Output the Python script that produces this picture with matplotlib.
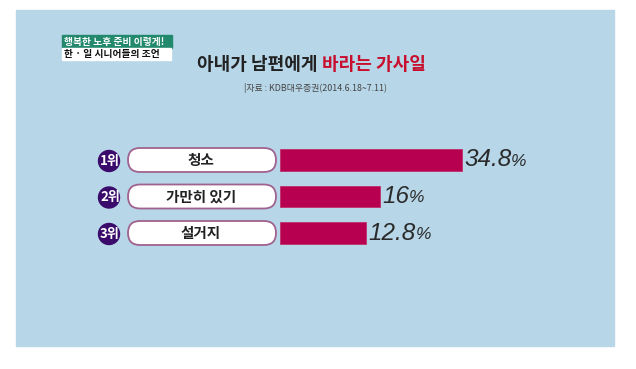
import matplotlib.pyplot as plt
from matplotlib.patches import Rectangle, FancyBboxPatch, Circle

plt.rcParams['font.family'] = ['Noto Sans CJK KR', 'DejaVu Sans']

# data
ranks = ['1위', '2위', '3위']
chores = ['청소', '가만히 있기', '설거지']
values = [34.8, 16, 12.8]
value_labels = ['34.8', '16', '12.8']

title_black = '아내가 남편에게 '
title_red = '바라는 가사일'
source = '|자료 : KDB대우증권(2014.6.18~7.11)'
tag_top = '행복한 노후 준비 이렇게!'
tag_bottom = '한 · 일 시니어들의 조언'

W, H = 636, 369
fig = plt.figure(figsize=(W / 100, H / 100), dpi=100)
fig.patch.set_facecolor('white')

# overlay axes in pixel units (top-left origin) for the decorations
bg = fig.add_axes([0, 0, 1, 1])
bg.set_xlim(0, W)
bg.set_ylim(H, 0)
bg.axis('off')

bg.add_patch(Rectangle((16, 10), 598, 336, color='#b7d6e8', zorder=0))

# tag in the top-left corner
bg.add_patch(Rectangle((62, 35), 110, 12.5, color='#23896d', zorder=1))
bg.add_patch(Rectangle((62, 47.5), 109, 12.5, color='white', zorder=1))
bg.text(64, 41.5, tag_top, color='white', fontsize=7, fontweight='bold',
        va='center', ha='left')
bg.text(64, 54, tag_bottom, color='#111111', fontsize=7, fontweight='bold',
        va='center', ha='left')

# title in two colours
t1 = bg.text(197, 65, title_black, color='#222222', fontsize=13,
             fontweight='bold', va='center', ha='left')
bg.annotate(title_red, xy=(1, 0.5), xycoords=t1, color='#c8102e',
            fontsize=13, fontweight='bold', va='center', ha='left')
bg.text(315, 88, source, color='#444444', fontsize=6.4, va='center', ha='center')

# rows: badge + pill label
row_y0, row_step = 160, 36.5
for i, (r, c) in enumerate(zip(ranks, chores)):
    y = row_y0 + row_step * i
    bg.add_patch(FancyBboxPatch((128, y - 12), 148, 24,
                                boxstyle='round,pad=0,rounding_size=12',
                                facecolor='white', edgecolor='#a0628f',
                                linewidth=1.3, zorder=2))
    bg.add_patch(Circle((109, y + 1), 10.5, color='#3a0b6b', zorder=2))
    bg.text(110, y + 1, r, color='white', fontsize=9.5, fontweight='bold',
            va='center', ha='center', zorder=3)
    bg.text(201, y, c, color='#222222', fontsize=10.5, fontweight='bold',
            va='center', ha='center', zorder=3)

# bar axes: pixel 310 is value 0, 4.36 px per percent point
px0, ppu = 310.2, 4.36
bar_left_px = 280
ax_l, ax_r = bar_left_px, 613
ax_t, ax_b = 140, 255
ax = fig.add_axes([ax_l / W, 1 - ax_b / H, (ax_r - ax_l) / W, (ax_b - ax_t) / H])
ax.set_xlim((ax_l - px0) / ppu, (ax_r - px0) / ppu)
ax.set_ylim(2 + (ax_b - (row_y0 + 2 * row_step)) / row_step,
            -(row_y0 - ax_t) / row_step)
ax.axis('off')
ax.patch.set_alpha(0)

start = (bar_left_px - px0) / ppu
rows = list(range(len(values)))
ax.barh(rows, [v - start for v in values], left=start, height=0.58,
        color='#b80050', edgecolor='#c0306a', linewidth=0.6)

for i, (v, lab) in enumerate(zip(values, value_labels)):
    num = ax.annotate(lab, xy=(v, i), xytext=(1.5, 0), textcoords='offset points',
                      fontsize=17.5, style='italic', color='#2a2a2a',
                      family=['Liberation Sans', 'DejaVu Sans'],
                      va='center', ha='left')
    ax.annotate('%', xy=(1, 0.12), xycoords=num, fontsize=12.5, style='italic',
                color='#2a2a2a', family=['Liberation Sans', 'DejaVu Sans'],
                va='bottom', ha='left')

fig.savefig('out.png', dpi=100)
